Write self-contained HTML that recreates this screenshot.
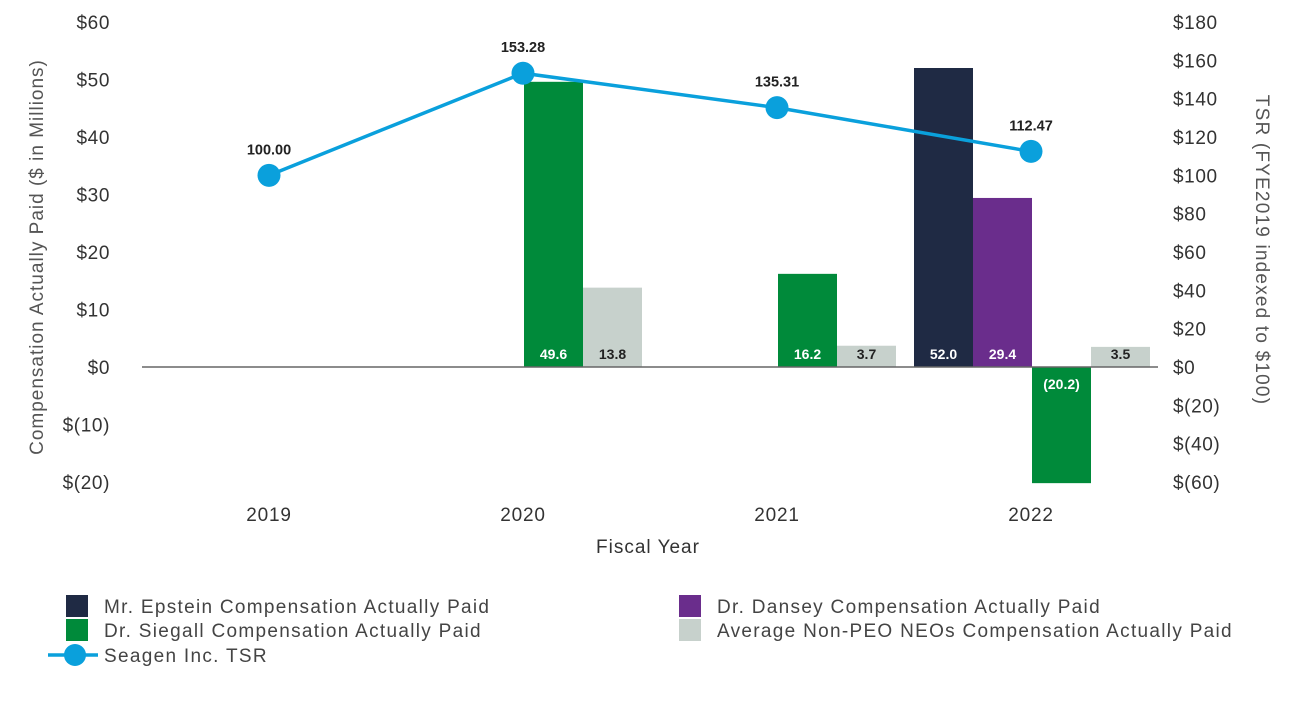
<!DOCTYPE html>
<html><head><meta charset="utf-8"><style>
body{margin:0;background:#fff;font-family:"Liberation Sans",sans-serif}
svg text{font-family:"Liberation Sans",sans-serif}
</style></head><body>
<svg id="c" width="1300" height="720" xmlns="http://www.w3.org/2000/svg"></svg>
<script>
const categories=["2019","2020","2021","2022"];
const epstein=[null,null,null,52.0];
const dansey=[null,null,null,29.4];
const siegall=[null,49.6,16.2,-20.2];
const nonPeo=[null,13.8,3.7,3.5];
const tsr=[100.00,153.28,135.31,112.47];
const tsrLabels=["100.00","153.28","135.31","112.47"];
const leftTicks=[60,50,40,30,20,10,0,-10,-20];
const rightTicks=[180,160,140,120,100,80,60,40,20,0,-20,-40,-60];
const svg=document.getElementById('c');const NS="http://www.w3.org/2000/svg";
function mk(t,a,txt){const e=document.createElementNS(NS,t);for(const k in a)e.setAttribute(k,a[k]);if(txt!=null)e.textContent=txt;svg.appendChild(e);return e;}
const y0=367,yL=v=>y0-v*5.75,yR=v=>y0-v*1.9167;
const left=142,step=254,cx=i=>left+step/2+i*step,bw=59;
function fmt(v){return v<0?"$("+(-v)+")":"$"+v;}
leftTicks.forEach(v=>{const e=mk('text',{x:110,y:yL(v)+7,'text-anchor':'end','font-size':19,fill:'#333','letter-spacing':0.6},fmt(v));
});
rightTicks.forEach(v=>{const e=mk('text',{x:1173,y:yR(v)+7,'font-size':19,fill:'#333','letter-spacing':0.6},fmt(v));
});
const series=[[epstein,'#1f2a44','#fff','epstein'],[dansey,'#6a2d8c','#fff','dansey'],[siegall,'#008a3a','#fff','siegall'],[nonPeo,'#c7d1cc','#222','non-peo']];
categories.forEach((c,i)=>{
 const e=mk('text',{x:cx(i),y:521,'text-anchor':'middle','font-size':19,fill:'#333','letter-spacing':0.8},c);
 
 series.forEach((s,j)=>{const v=s[0][i];if(v==null)return;
  const x=cx(i)-2*bw+j*bw+1;const y=Math.min(yL(v),y0),h=Math.abs(yL(v)-y0);
  const r=mk('rect',{x:x,y:y,width:bw,height:h,fill:s[1]});
  
  const ty=v>=0?y0-8:y0+22;const lbl=v<0?"("+(-v).toFixed(1)+")":v.toFixed(1);
  const t=mk('text',{x:x+bw/2,y:ty,'text-anchor':'middle','font-size':14,'font-weight':'bold',fill:s[2]},lbl);
  });
});
const ax=mk('line',{x1:left,x2:1158,y1:y0,y2:y0,stroke:'#666','stroke-width':1.5});

const pl=mk('polyline',{points:tsr.map((v,i)=>cx(i)+','+yR(v)).join(' '),fill:'none',stroke:'#0aa0dc','stroke-width':3.5});

tsr.forEach((v,i)=>{const p=mk('circle',{cx:cx(i),cy:yR(v),r:11.5,fill:'#0aa0dc'});
 
 const t=mk('text',{x:cx(i),y:yR(v)-21,'text-anchor':'middle','font-size':14.5,'font-weight':'bold',fill:'#222'},tsrLabels[i]);
 });
let t=mk('text',{x:648,y:553,'text-anchor':'middle','font-size':19,fill:'#333','letter-spacing':1},'Fiscal Year');

t=mk('text',{x:0,y:0,transform:'translate(43,257) rotate(-90)','text-anchor':'middle','font-size':19,fill:'#555','letter-spacing':1},'Compensation Actually Paid ($ in Millions)');

t=mk('text',{x:0,y:0,transform:'translate(1256,250) rotate(90)','text-anchor':'middle','font-size':19,fill:'#555','letter-spacing':1.2},'TSR (FYE2019 indexed to $100)');

const leg=[[66,606,'#1f2a44','Mr. Epstein Compensation Actually Paid'],[66,630,'#008a3a','Dr. Siegall  Compensation Actually Paid'],[679,606,'#6a2d8c','Dr. Dansey Compensation Actually Paid'],[679,630,'#c7d1cc','Average Non-PEO NEOs Compensation Actually Paid']];
leg.forEach(l=>{const r=mk('rect',{x:l[0],y:l[1]-11,width:22,height:22,fill:l[2]});
 
 const e=mk('text',{x:l[0]+38,y:l[1]+7,'font-size':19,fill:'#444','letter-spacing':1.3},l[3]);
 });
let e=mk('line',{x1:48,x2:98,y1:655,y2:655,stroke:'#0aa0dc','stroke-width':3.5});

e=mk('circle',{cx:75,cy:655,r:11,fill:'#0aa0dc'});

e=mk('text',{x:104,y:662,'font-size':19,fill:'#444','letter-spacing':1.3},'Seagen Inc. TSR');

</script>
</body></html>
